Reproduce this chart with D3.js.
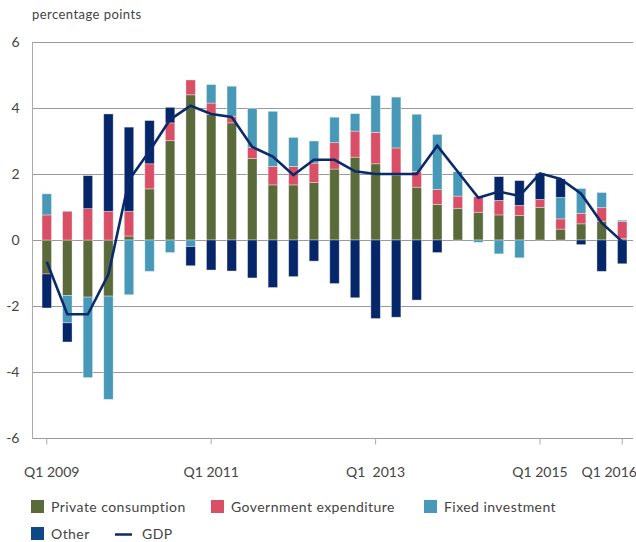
<!DOCTYPE html>
<meta charset="utf-8">
<style>
body { margin: 0; background: #fff; }
text { font-family: Lato, "Open Sans", sans-serif; fill: #444; }
.grid line { stroke: #9a9a9a; stroke-width: 1; }
.bar { stroke: #fff; stroke-opacity: 0.45; stroke-width: 0.8; }
.lab { letter-spacing: 0.45px; }
</style>
<body>
<svg width="636" height="542"></svg>
<script src="https://cdn.jsdelivr.net/npm/d3@7"></script>
<script>

// quarters Q1 2009 .. Q1 2016
var quarters = []
for (var yr = 2009; yr <= 2016; yr++) {
  for (var q = 1; q <= 4; q++) {
    if (yr == 2016 && q > 1) break
    quarters.push("Q" + q + " " + yr)
  }
}

var privCons = [-1.03,-1.68,-1.73,-1.70,0.12,1.55,3.01,4.40,3.80,3.55,2.47,1.67,1.67,1.74,2.15,2.51,2.31,1.97,1.60,1.08,0.96,0.84,0.76,0.74,0.99,0.33,0.49,0.57,0.04]
var govExp   = [0.76,0.87,0.95,0.87,0.75,0.76,0.54,0.45,0.35,0.20,0.34,0.56,0.56,0.59,0.80,0.79,0.95,0.82,0.48,0.45,0.37,0.47,0.44,0.31,0.24,0.31,0.32,0.41,0.52]
var fixedInv = [0.64,-0.83,-2.44,-3.13,-1.66,-0.95,-0.38,-0.20,0.56,0.91,1.17,1.67,0.88,0.67,0.77,0.53,1.12,1.54,1.73,1.67,0.74,-0.07,-0.42,-0.54,0.00,0.65,0.75,0.46,0.04]
var other    = [-1.03,-0.58,1.00,2.95,2.55,1.31,0.47,-0.58,-0.91,-0.94,-1.15,-1.44,-1.11,-0.64,-1.32,-1.75,-2.38,-2.34,-1.82,-0.38,0.00,0.00,0.72,0.75,0.79,0.56,-0.14,-0.95,-0.72]
var gdp      = [-0.66,-2.25,-2.25,-1.04,1.82,2.70,3.65,4.07,3.82,3.73,2.82,2.53,1.97,2.43,2.43,2.08,2.00,2.00,2.00,2.86,2.07,1.28,1.47,1.33,2.02,1.85,1.40,0.52,-0.05]

var seriesNames = ["Private consumption", "Government expenditure", "Fixed investment", "Other"]
var seriesKeys = ["pc", "ge", "fi", "ot"]
var colors = ["#5a6a3b", "#d94f66", "#4899b8", "#06266a"]
var yTicks = [-6, -4, -2, 0, 2, 4, 6]
var xLabels = ["Q1 2009", "Q1 2011", "Q1 2013", "Q1 2015", "Q1 2016"]

var svg = d3.select("svg")

var x = d3.scaleBand().domain(quarters).range([36.5, 632.5]).paddingInner(0.54).paddingOuter(0.27)
var y = d3.scaleLinear().domain([-6, 6]).range([438, 42])

var rows = quarters.map(function(q, i) {
  return {q: q, pc: privCons[i], ge: govExp[i], fi: fixedInv[i], ot: other[i]}
})

// gridlines
svg.append("g").attr("class", "grid")
  .selectAll("line").data(yTicks).enter().append("line")
  .attr("x1", 32.5).attr("x2", 633)
  .attr("y1", d => Math.round(y(d)) + 0.5).attr("y2", d => Math.round(y(d)) + 0.5)

// left axis line
svg.append("line")
  .attr("x1", 32.5).attr("x2", 32.5).attr("y1", y(6)).attr("y2", y(-6) + 1)
  .attr("stroke", "#aaa")

// y labels (plain hyphen like the original)
var yAxis = svg.append("g").attr("transform", "translate(32.5,0)")
  .call(d3.axisLeft(y).tickValues(yTicks).tickSize(0).tickPadding(13).tickFormat(d => String(d)))
yAxis.select(".domain").remove()
yAxis.selectAll("text").style("font-size", "14px").attr("fill", "#444")

// x axis
var xAxis = svg.append("g").attr("transform", "translate(0," + (Math.round(y(-6)) + 0.5) + ")")
  .call(d3.axisBottom(x).tickValues(xLabels).tickSize(6).tickPadding(0))
xAxis.select(".domain").remove()
xAxis.selectAll("line").attr("stroke", "#aaa")
xAxis.selectAll("text")
  .style("font-size", "14px").attr("fill", "#444")
  .attr("y", 38).attr("dy", 0)
  .attr("dx", (d, i) => i == 0 ? 5 : (i == xLabels.length - 1 ? -13 : 0))
  .text(d => d == "Q1 2013" ? "Q1\u00a0 2013" : d)

// stacked bars
var stack = d3.stack().keys(seriesKeys).offset(d3.stackOffsetDiverging)
var layers = stack(rows)

svg.append("g").selectAll("g").data(layers).enter().append("g")
  .attr("fill", (d, i) => colors[i])
  .selectAll("rect").data(d => d).enter().append("rect")
  .attr("class", "bar")
  .attr("x", d => x(d.data.q))
  .attr("width", x.bandwidth())
  .attr("y", d => y(d[1]))
  .attr("height", d => Math.max(0, y(d[0]) - y(d[1])))

// GDP line
var line = d3.line().x((d, i) => x(quarters[i]) + x.bandwidth() / 2).y(d => y(d))
svg.append("path").datum(gdp)
  .attr("d", line)
  .attr("fill", "none").attr("stroke", "#0b2a6b").attr("stroke-width", 2.6)
  .attr("stroke-linejoin", "miter")

// title
svg.append("text").attr("class", "lab").attr("x", 32).attr("y", 19).style("font-size", "13px").attr("fill", "#555")
  .text("percentage points")

// legend
var legendPos = [[31, 500], [211, 500], [424, 500], [31, 527]]
var legendSwatch = ["#5a6a3b", "#d94f66", "#4899b8", "#0d4a84"]
var lg = svg.append("g")
seriesNames.forEach(function(name, i) {
  var p = legendPos[i]
  lg.append("rect").attr("x", p[0]).attr("y", p[1]).attr("width", 13).attr("height", 13).attr("fill", legendSwatch[i])
  lg.append("text").attr("class", "lab").attr("x", p[0] + 20).attr("y", p[1] + 12).style("font-size", "14px").text(name)
})
lg.append("line").attr("x1", 115).attr("x2", 132).attr("y1", 534.5).attr("y2", 534.5)
  .attr("stroke", "#0b2a6b").attr("stroke-width", 2.5)
lg.append("text").attr("class", "lab").attr("x", 142).attr("y", 539).style("font-size", "14px").text("GDP")

</script>
</body>
